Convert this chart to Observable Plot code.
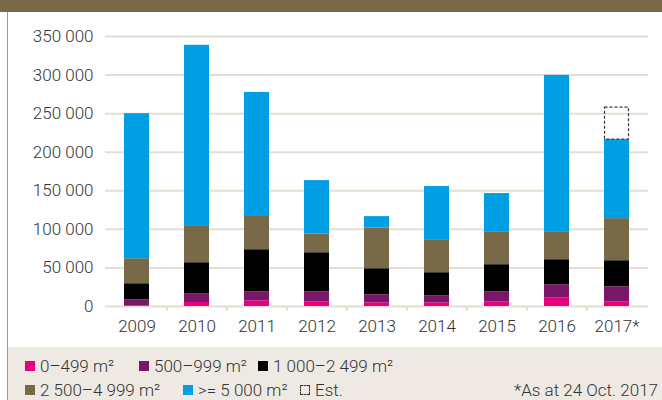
<!DOCTYPE html>
<html><head><meta charset="utf-8">
<script src="https://cdn.jsdelivr.net/npm/d3@7"></script>
<script src="https://cdn.jsdelivr.net/npm/@observablehq/plot@0.6"></script>
<style>
body{margin:0;width:662px;height:400px;overflow:hidden;background:#fff;font-family:Roboto,"DejaVu Sans Condensed",sans-serif;font-weight:300;}
#wrap{position:relative;width:662px;height:400px;}
#chart{position:absolute;left:0;top:0;}
#band{position:absolute;left:0;top:0;width:662px;height:12px;background:#786a48;}
#border{position:absolute;left:7px;top:12px;width:1px;height:388px;background:#a39a86;}
#legend{position:absolute;left:8px;top:347px;width:654px;height:53px;background:#eee9e2;color:#333;font-size:17px;line-height:17px;}
.item{position:absolute;display:flex;align-items:center;white-space:nowrap;height:17px;}
.sw{width:10px;height:10px;margin-right:5px;box-sizing:border-box;flex:none;}
.note{position:absolute;right:4px;white-space:nowrap;line-height:17px;}
</style></head>
<body><div id="wrap"><div id="chart"></div><div id="band"></div><div id="border"></div><div id="legend"></div></div>
<script>
const years = ["2009","2010","2011","2012","2013","2014","2015","2016","2017*"];
const categories = ["0–499 m²","500–999 m²","1 000–2 499 m²","2 500–4 999 m²",">= 5 000 m²"];
const colors = ["#e6007e","#7b1769","#000000","#786a48","#009fe3"];
const s0_499 = [1000, 5200, 7400, 6100, 4800, 4800, 6100, 11300, 6100];
const s500_999 = [7700, 11300, 11700, 13000, 10400, 9100, 13000, 16900, 19500];
const s1000_2499 = [20800, 40250, 54500, 50600, 33760, 29900, 35100, 32450, 33750];
const s2500_4999 = [32400, 48050, 44200, 24300, 52840, 42800, 41900, 36350, 54550];
const s5000 = [188100, 233800, 159700, 69200, 14700, 68900, 50300, 202600, 102600];
const estYear = "2017*";
const estTotal = 258400;
const yTicks = [0, 50000, 100000, 150000, 200000, 250000, 300000, 350000];
const estLabel = "Est.";
const noteText = "*As at 24 Oct. 2017";

const series = [s0_499, s500_999, s1000_2499, s2500_4999, s5000];
const rows = [];
years.forEach((y, i) => categories.forEach((c, k) => rows.push({year: y, cat: c, value: series[k][i]})));
const estIdx = years.indexOf(estYear);
const actualTotal = series.reduce((a, s) => a + s[estIdx], 0);
const est = [{year: estYear, y1: actualTotal, y2: estTotal}];

const fmt = d => d3.format(",")(d).replace(/,/g, " ");
const font = 'Roboto,"DejaVu Sans Condensed",sans-serif';

const chart = Plot.plot({
  width: 662, height: 347,
  marginLeft: 105, marginRight: 14, marginTop: 36, marginBottom: 41,
  style: {fontFamily: font, fontSize: "17px", fontWeight: 300, color: "#333", background: "transparent"},
  x: {domain: years, paddingInner: 0.585, paddingOuter: 0.2925, label: null},
  y: {domain: [0, 350000], label: null},
  color: {domain: categories, range: colors},
  marks: [
    Plot.gridY(yTicks, {stroke: "#e4ded3", strokeWidth: 2, strokeOpacity: 1}),
    Plot.ruleX(years.slice(1), {x: d => d, y1: 0, y2: 0, dx: -30.17, insetBottom: -5, stroke: "#e4ded3", strokeWidth: 2}),
    Plot.barY(rows, {x: "year", y: "value", fill: "cat", order: categories}),
    Plot.rectY(est, {x: "year", y1: "y1", y2: "y2", fill: "none", stroke: "#333", strokeWidth: 1.2, strokeDasharray: "3,2", insetTop: 0.5, insetLeft: 0.5, insetRight: 0.5}),
    Plot.axisY(yTicks, {tickSize: 0, tickPadding: 12, tickFormat: fmt, fontSize: 17, fill: "#333", label: null}),
    Plot.axisX({tickSize: 0, tickPadding: 13, fontSize: 17, fill: "#333", label: null})
  ]
});
document.getElementById("chart").appendChild(chart);

const legend = document.getElementById("legend");
const pos = [[17, 19], [131, 19], [250, 19], [17, 43], [175, 43]];
categories.forEach((c, k) => {
  const it = document.createElement("div");
  it.className = "item";
  it.style.left = pos[k][0] + "px"; it.style.top = (pos[k][1] - 8.5) + "px";
  it.innerHTML = `<div class="sw" style="background:${colors[k]}"></div><span>${c}</span>`;
  legend.appendChild(it);
});
const e = document.createElement("div");
e.className = "item"; e.style.left = "292px"; e.style.top = "34.5px";
e.innerHTML = `<div class="sw" style="border:1px dashed #333;background:transparent"></div><span>${estLabel}</span>`;
legend.appendChild(e);
const n = document.createElement("div");
n.className = "note"; n.style.top = "34.5px"; n.textContent = noteText;
legend.appendChild(n);
</script></body></html>
